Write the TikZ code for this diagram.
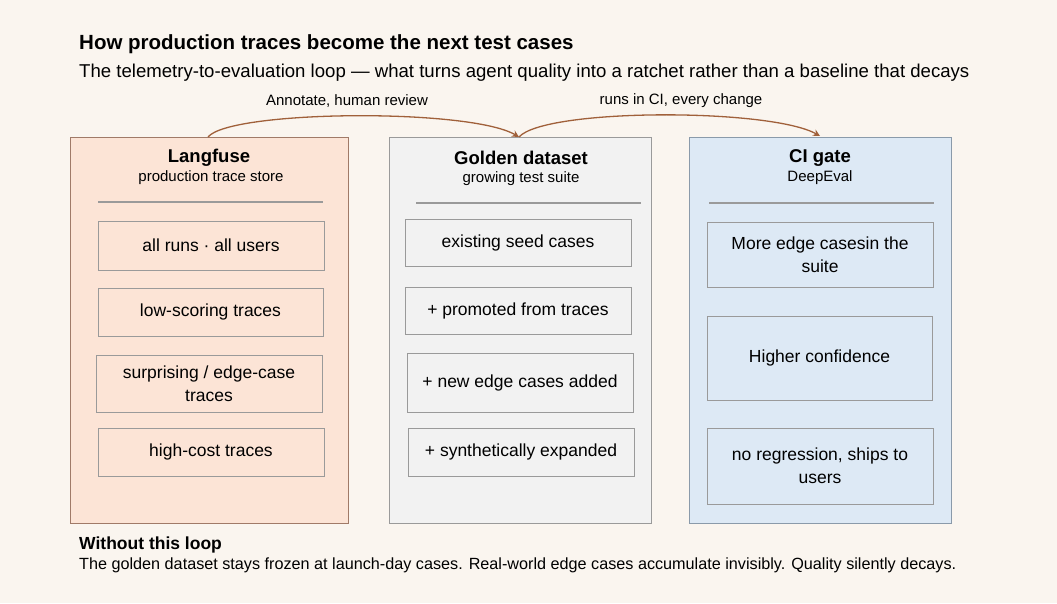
\documentclass[tikz,border=0pt]{standalone}
\usepackage{fontspec}
\setmainfont{Liberation Sans}
\usetikzlibrary{arrows.meta}
\definecolor{bgcol}{HTML}{FAF5EF}
\definecolor{lffill}{HTML}{FCE4D6}
\definecolor{lfline}{HTML}{A07A68}
\definecolor{gdfill}{HTML}{F2F2F2}
\definecolor{gdline}{HTML}{9A9A9A}
\definecolor{cifill}{HTML}{DDE9F5}
\definecolor{ciline}{HTML}{8A9AAA}
\definecolor{loopcol}{HTML}{A0603A}
\tikzset{
  panel/.style={draw=#1, line width=0.8pt},
  item/.style={draw=gdline, line width=0.7pt, align=center, font=\fontsize{17.5}{23}\selectfont},
  head/.style={font=\fontsize{18.5}{22}\selectfont\bfseries},
  sub/.style={font=\fontsize{15}{18}\selectfont},
  loop/.style={draw=loopcol, line width=1.3pt, -{Stealth[length=7pt,width=7pt]}}
}
\begin{document}
\begin{tikzpicture}[x=1pt,y=-1pt]
  \fill[bgcol] (0,0) rectangle (1057,603);
  \useasboundingbox (0,0) rectangle (1057,603);
  % title
  \node[anchor=west, inner sep=0pt, font=\fontsize{20.5}{24}\selectfont\bfseries] (title) at (79,44) {How production traces become the next test cases};
  \node[anchor=west, inner sep=0pt, font=\fontsize{18.6}{22}\selectfont] (subtitle) at (79,73) {The telemetry-to-evaluation loop — what turns agent quality into a ratchet rather than a baseline that decays};
  % panels
  \draw[panel=lfline, fill=lffill] (70,137) rectangle (348,523);
  \draw[panel=gdline, fill=gdfill] (389,137) rectangle (651,523);
  \draw[panel=ciline, fill=cifill] (689,137) rectangle (951,523);
  \node[head] (lf) at (209,158) {Langfuse};
  \node[sub] (lfsub) at (211,178) {production trace store};
  \node[head] (gd) at (521,158) {Golden dataset};
  \node[sub] (gdsub) at (521,179) {growing test suite};
  \node[head] (ci) at (820,158) {CI gate};
  \node[sub] (cisub) at (820,178) {DeepEval};
  \draw[gdline, line width=1.2pt] (98,202) -- (323,202);
  \draw[gdline, line width=1.2pt] (416,203) -- (641,203);
  \draw[gdline, line width=1.2pt] (709,203) -- (934,203);
  % Langfuse items
  \draw[item, fill=lffill] (98,221) rectangle (324,270);
  \node[item, draw=none] (lf1) at (211,245.5) {all runs · all users};
  \draw[item, fill=lffill] (98,288) rectangle (323,336);
  \node[item, draw=none] (lf2) at (210.5,312) {low-scoring traces};
  \draw[item, fill=lffill] (96,355) rectangle (322,412);
  \node[item, draw=none] (lf3) at (209,383.5) {surprising / edge-case\\traces};
  \draw[item, fill=lffill] (98,428) rectangle (324,476);
  \node[item, draw=none] (lf4) at (211,452) {high-cost traces};
  % Golden items
  \draw[item, fill=gdfill] (405,219) rectangle (631,266);
  \node[item, draw=none] (gd1) at (518,242.5) {existing seed cases};
  \draw[item, fill=gdfill] (405,287) rectangle (631,334);
  \node[item, draw=none] (gd2) at (518,310.5) {+ promoted from traces};
  \draw[item, fill=gdfill] (407,353) rectangle (633,412);
  \node[item, draw=none] (gd3) at (520,382.5) {+ new edge cases added};
  \draw[item, fill=gdfill] (408,428) rectangle (634,476);
  \node[item, draw=none] (gd4) at (521,452) {+ synthetically expanded};
  % CI items
  \draw[item, fill=cifill] (707,222) rectangle (933,287);
  \node[item, draw=none] (ci1) at (820,254.5) {More edge casesin the\\suite};
  \draw[item, fill=cifill] (707,316) rectangle (932,400);
  \node[item, draw=none] (ci2) at (819.5,358) {Higher confidence};
  \draw[item, fill=cifill] (707,428) rectangle (933,504);
  \node[item, draw=none] (ci3) at (820,466) {no regression, ships to\\users};
  % loop arrows
  \coordinate (lftop) at (208,137);
  \coordinate (gdtop) at (519,137);
  \coordinate (citop) at (820,136);
  \draw[loop] (lftop) .. controls (230,110) and (470,108) .. (gdtop);
  \draw[loop] (gdtop) .. controls (545,108) and (770,108) .. (citop);
  \node[sub] (lbl1) at (347,101) {Annotate, human review};
  \node[sub] (lbl2) at (681,101) {runs in CI, every change};
  % footer
  \node[anchor=west, inner sep=0pt, font=\fontsize{17.5}{20}\selectfont\bfseries] (foot) at (79,545) {Without this loop};
  \node[anchor=west, inner sep=0pt, font=\fontsize{16.2}{19}\selectfont] (foottext) at (79,565) {The golden dataset stays frozen at launch-day cases. Real-world edge cases accumulate invisibly. Quality silently decays.};
\end{tikzpicture}
\end{document}
